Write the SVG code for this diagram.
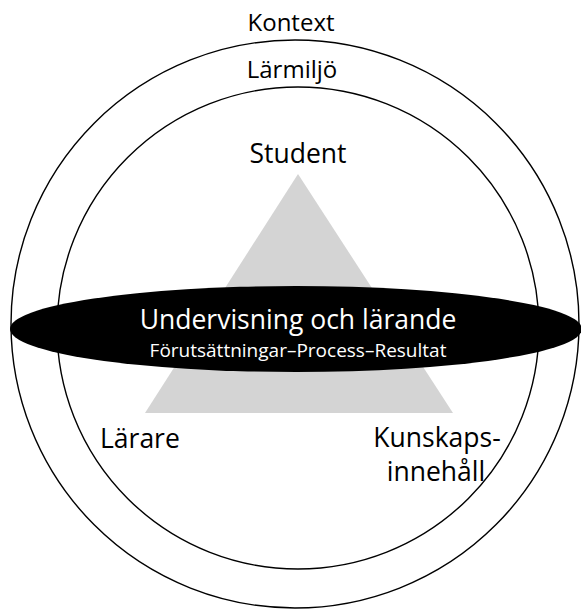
<svg xmlns="http://www.w3.org/2000/svg" width="581" height="610" viewBox="0 0 581 610">
<style>
  .ring { fill: none; stroke: #000; stroke-width: 1.4; }
  .lbl { font-family: "Open Sans", "DejaVu Sans", sans-serif; font-size: 26.5px; fill: #000; }
  .sm { font-size: 24px; }
  .mid { text-anchor: middle; }
  .wt { fill: #fff; }
</style>
<rect width="581" height="610" fill="#fff"/>
<g id="kontext">
  <circle class="ring" cx="295" cy="324" r="284"/>
  <text class="lbl sm mid" x="291" y="31">Kontext</text>
</g>
<g id="larmiljo">
  <circle class="ring" cx="298" cy="328" r="241"/>
  <text class="lbl sm mid" x="292" y="78">Lärmiljö</text>
</g>
<g id="triangle">
  <polygon points="298,174 453,413 145,413" fill="#d4d4d4"/>
</g>
<g id="student">
  <text class="lbl mid" x="298" y="163">Student</text>
</g>
<g id="larare">
  <text class="lbl" x="100" y="448">Lärare</text>
</g>
<g id="kunskap">
  <text class="lbl mid" x="437" y="447">Kunskaps-</text>
  <text class="lbl mid" x="436" y="481">innehåll</text>
</g>
<g id="undervisning">
  <ellipse cx="296" cy="329" rx="286" ry="43" fill="#000"/>
  <text class="lbl mid wt" x="298" y="329">Undervisning och lärande</text>
  <text class="lbl mid wt" x="298" y="357" style="font-size:19px">Förutsättningar–Process–Resultat</text>
</g>
<g id="connectors"></g>
</svg>
